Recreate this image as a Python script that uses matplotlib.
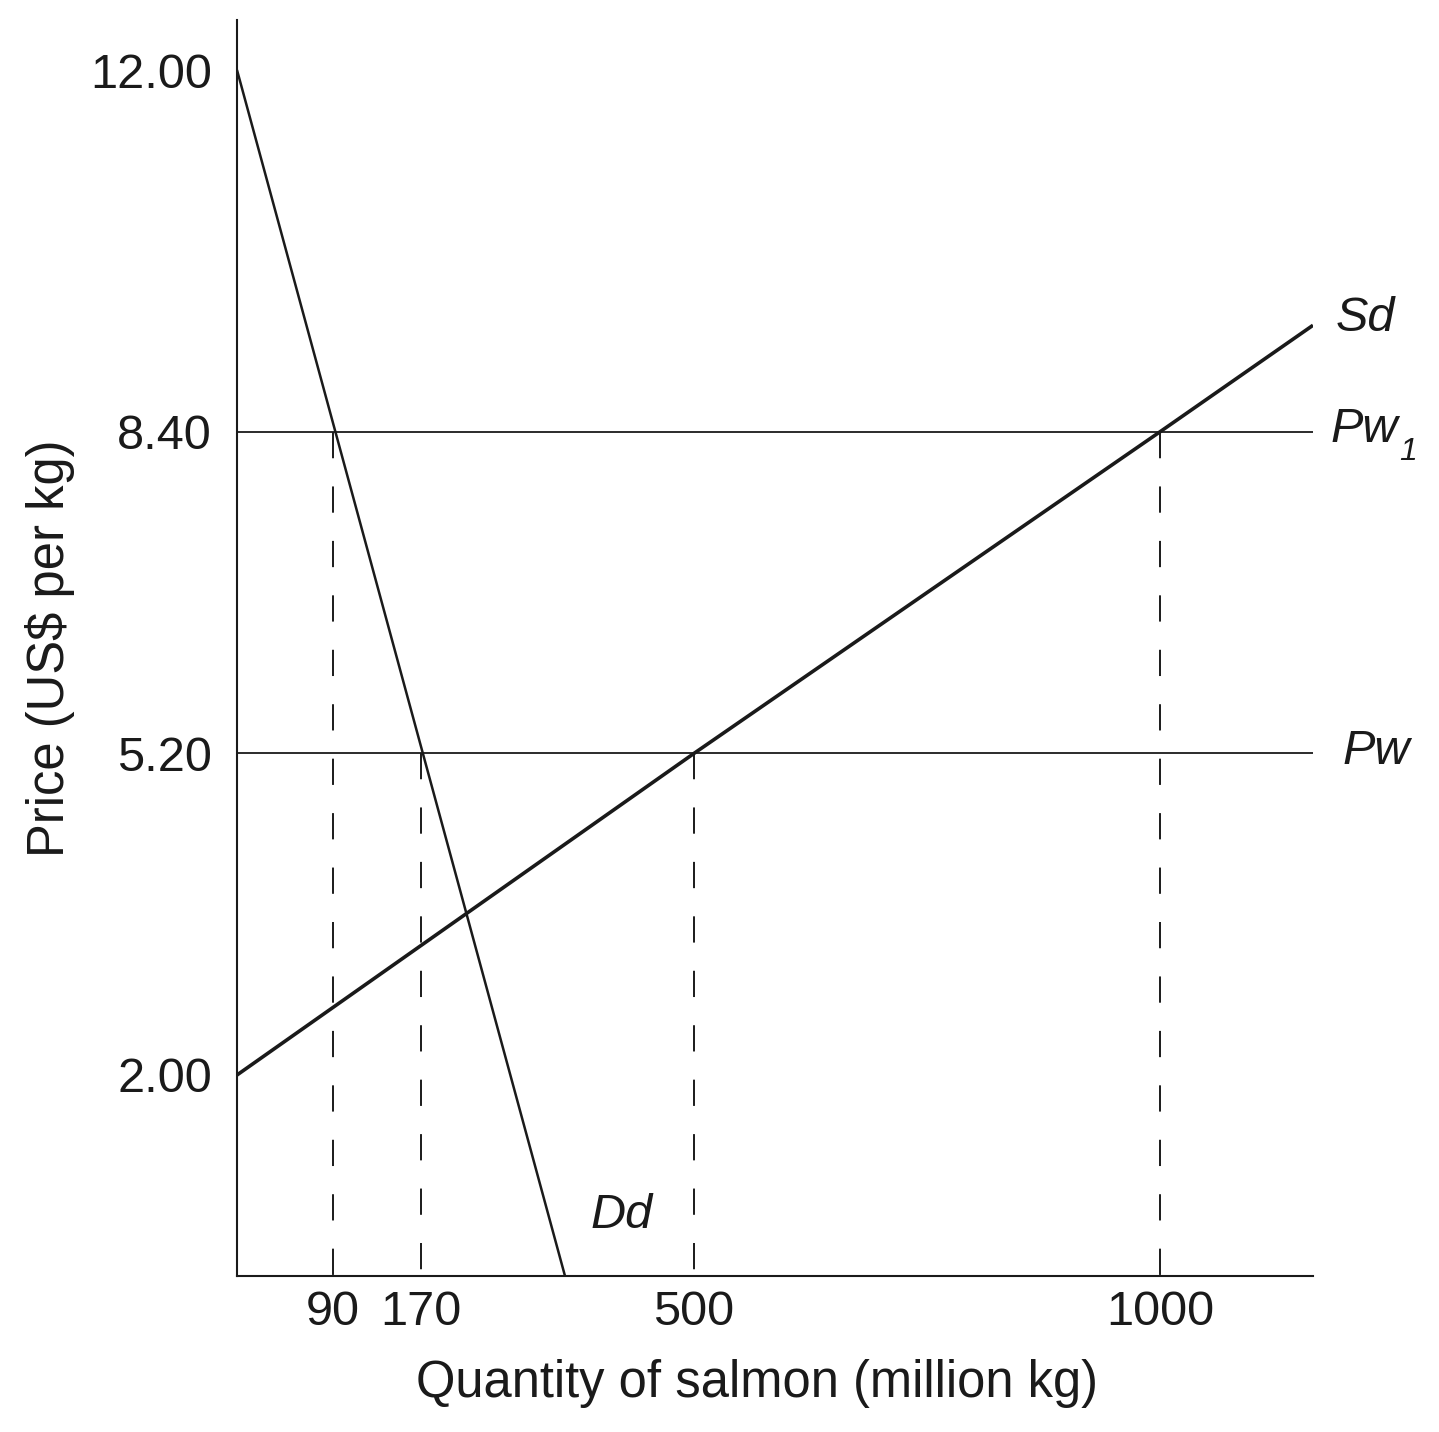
import numpy as np
import matplotlib
matplotlib.use("Agg")
import matplotlib.pyplot as plt

plt.rcParams['font.family'] = ['Liberation Sans', 'DejaVu Sans']

INK = '#1a1a1a'

# ---- data ----
demand_q = [0, 300]
demand_p = [12.0, 0.0]
supply_q = [0, 500, 1000, 1165]
supply_p = [2.0, 5.2, 8.4, 9.46]
world_prices = [5.2, 8.4]
marked_q = [90, 170, 500, 1000]
marked_p = [8.4, 5.2, 5.2, 8.4]
x_ticks = [90, 170, 500, 1000]
y_ticks = [2.0, 5.2, 8.4, 12.0]

# schematic (non-proportional) quantity axis: piecewise linear scale
knot_q = np.array([0, 90, 170, 300, 500, 1000, 1165], float)
knot_s = np.array([0, 96, 184, 328, 457, 923, 1076], float)


def _pw(x, xp, fp):
    x = np.asarray(x, float)
    y = np.interp(x, xp, fp)
    lo = x < xp[0]
    hi = x > xp[-1]
    y = np.where(lo, fp[0] + (x - xp[0]) * (fp[1] - fp[0]) / (xp[1] - xp[0]), y)
    y = np.where(hi, fp[-1] + (x - xp[-1]) * (fp[-1] - fp[-2]) / (xp[-1] - xp[-2]), y)
    return y


def fwd(x):
    return _pw(x, knot_q, knot_s)


def inv(s):
    return _pw(s, knot_s, knot_q)


fig = plt.figure(figsize=(14.39, 14.32), dpi=100)
ax = fig.add_axes([237 / 1439, 156 / 1432, 1076 / 1439, 1256 / 1432])
ax.set_xscale('function', functions=(fwd, inv))
ax.set_xlim(0, 1165)
ax.set_ylim(0, 1256 / 100.5)

# world price lines
for p in world_prices:
    ax.plot([0, 1165], [p, p], color=INK, lw=1.3, solid_capstyle='butt')

# dashed verticals
for q, p in zip(marked_q, marked_p):
    ax.plot([q, q], [p, 0], color=INK, lw=1.4, dashes=(13.5, 14.5))

# demand and supply
ax.plot(demand_q, demand_p, color=INK, lw=1.8, solid_capstyle='butt')
ax.plot(supply_q, supply_p, color=INK, lw=2.6, solid_capstyle='butt')

# curve labels
fs = 35
ytr = ax.get_yaxis_transform()
ax.text(1.021, 9.53, 'Sd', transform=ytr, fontsize=fs,
        style='italic', ha='left', va='center', color=INK)
ax.text(1.016, 8.42, 'Pw', transform=ytr, fontsize=fs,
        style='italic', ha='left', va='center', color=INK)
ax.text(1.0805, 8.2, '1', transform=ytr, fontsize=23,
        style='italic', ha='left', va='center', color=INK)
ax.text(1.027, 5.22, 'Pw', transform=ytr, fontsize=fs,
        style='italic', ha='left', va='center', color=INK)
ax.text(339, 0.6, 'Dd', fontsize=fs, style='italic', ha='left', va='center', color=INK)

for side in ['top', 'right']:
    ax.spines[side].set_visible(False)
for side in ['left', 'bottom']:
    ax.spines[side].set_linewidth(1.5)
    ax.spines[side].set_color(INK)

ax.set_xticks(x_ticks)
ax.set_xticklabels([str(v) for v in x_ticks])
ax.set_yticks(y_ticks)
ax.set_yticklabels([f'{v:.2f}' for v in y_ticks])
ax.xaxis.set_minor_locator(matplotlib.ticker.NullLocator())
ax.yaxis.set_minor_locator(matplotlib.ticker.NullLocator())
ax.tick_params(axis='both', length=0, labelsize=fs, colors=INK)
ax.tick_params(axis='y', pad=18)
ax.tick_params(axis='x', pad=10)

ax.set_xlabel('Quantity of salmon (million kg)', fontsize=36.5, color=INK)
ax.set_ylabel('Price (US$ per kg)', fontsize=36.5, color=INK)
ax.xaxis.set_label_coords((757 - 237) / 1076, -(1383 - 1276) / 1256)
ax.yaxis.set_label_coords(-(237 - 50) / 1076, (1276 - 648) / 1256)
ax.xaxis.label.set_va('center')
ax.yaxis.label.set_va('center')

fig.savefig('out.png', dpi=100)
